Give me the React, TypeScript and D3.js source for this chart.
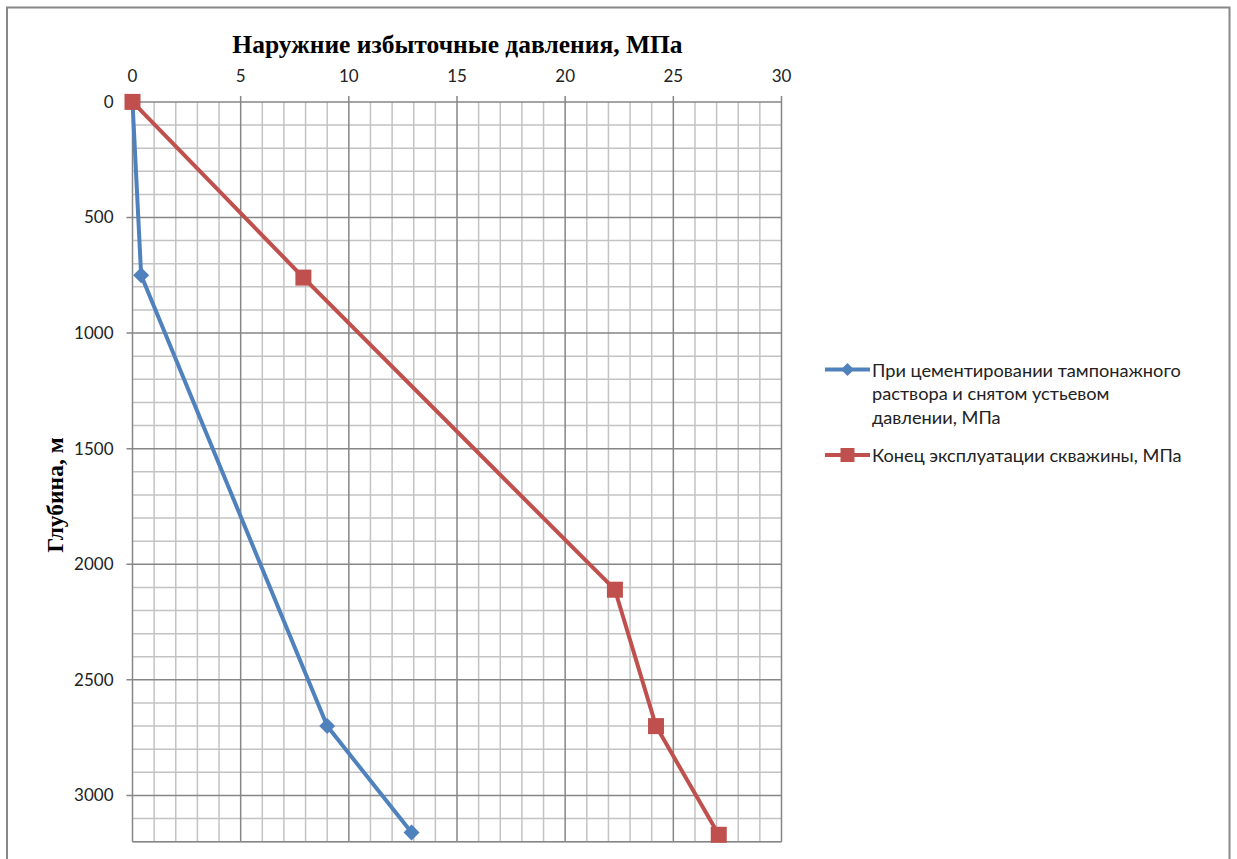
import React from "react";
import * as d3 from "d3";

// Pressure (MPa) vs depth (m) for the two load cases
const cementingDepth = [0, 750, 2700, 3160];
const cementingPressure = [0, 0.4, 9.0, 12.9];
const endOfLifeDepth = [0, 760, 2110, 2700, 3170];
const endOfLifePressure = [0, 7.9, 22.3, 24.2, 27.1];

const xTicks = [0, 5, 10, 15, 20, 25, 30];
const yTicks = [0, 500, 1000, 1500, 2000, 2500, 3000];

const seriesNames = [
  ["При цементировании тампонажного", "раствора и снятом устьевом", "давлении, МПа"],
  ["Конец эксплуатации скважины, МПа"],
];

const titleText = "Наружние избыточные давления, МПа";
const yTitleText = "Глубина, м";

const W = 1237;
const H = 859;
const plot = { left: 132.5, right: 781.5, top: 101.9, bottom: 841.7 };

const BLUE = "#4f81bd";
const RED = "#c0504d";
const MINOR = "#c3c3c3";
const MAJOR = "#868686";
const LABEL_FONT = "Lato, 'Open Sans', sans-serif";
const SERIF = "'Liberation Serif', 'DejaVu Serif', serif";

export default function App() {
  const x = d3.scaleLinear().domain([0, 30]).range([plot.left, plot.right]);
  const y = d3.scaleLinear().domain([0, 3200]).range([plot.top, plot.bottom]);

  const minorX = d3.range(0, 31, 1);
  const minorY = d3.range(0, 3201, 100);

  const line = d3
    .line<[number, number]>()
    .x((d) => x(d[0]))
    .y((d) => y(d[1]));

  const blue: [number, number][] = cementingPressure.map((p, i) => [p, cementingDepth[i]]);
  const red: [number, number][] = endOfLifePressure.map((p, i) => [p, endOfLifeDepth[i]]);

  const diamond = (cx: number, cy: number, r: number) =>
    `M${cx},${cy - r}L${cx + r},${cy}L${cx},${cy + r}L${cx - r},${cy}Z`;

  const legendX = 825;
  const legendTextX = 872;

  return (
    <svg
      width={W}
      height={H}
      style={{ position: "fixed", left: 0, top: 0, background: "#fff" }}
    >
      <rect x={0} y={0} width={W} height={H} fill="#fff" />
      {/* chart frame */}
      <path
        d={`M7,${H + 2}V7.5H1229.5V${H + 2}`}
        fill="none"
        stroke="#888"
        strokeWidth={2}
      />

      {/* minor grid */}
      {minorX
        .filter((v) => v % 5 !== 0)
        .map((v) => (
          <line key={"mx" + v} x1={x(v)} x2={x(v)} y1={plot.top} y2={plot.bottom} stroke={MINOR} strokeWidth={1.5} />
        ))}
      {minorY
        .filter((v) => v % 500 !== 0)
        .map((v) => (
          <line key={"my" + v} x1={plot.left} x2={plot.right} y1={y(v)} y2={y(v)} stroke={MINOR} strokeWidth={1.5} />
        ))}
      {/* major grid */}
      {xTicks.map((v) => (
        <line key={"Mx" + v} x1={x(v)} x2={x(v)} y1={plot.top - 6} y2={plot.bottom} stroke={MAJOR} strokeWidth={1.5} />
      ))}
      {yTicks.map((v) => (
        <line key={"My" + v} x1={plot.left - 6} x2={plot.right} y1={y(v)} y2={y(v)} stroke={MAJOR} strokeWidth={1.5} />
      ))}
      <line x1={plot.left} x2={plot.right} y1={plot.bottom} y2={plot.bottom} stroke={MAJOR} strokeWidth={1.5} />

      {/* tick labels */}
      {xTicks.map((v) => (
        <text key={"tx" + v} x={x(v)} y={82} textAnchor="middle" fontFamily={LABEL_FONT} fontSize={17} fill="#222">
          {v}
        </text>
      ))}
      {yTicks.map((v) => (
        <text key={"ty" + v} x={113.5} y={y(v) + 6} textAnchor="end" fontFamily={LABEL_FONT} fontSize={17} fill="#222">
          {v}
        </text>
      ))}

      {/* axis titles */}
      <text x={457.5} y={53} textAnchor="middle" fontFamily={SERIF} fontWeight="bold" fontSize={25.5} fill="#000">
        {titleText}
      </text>
      <text
        transform="translate(63,495) rotate(-90)"
        textAnchor="middle"
        fontFamily={SERIF}
        fontWeight="bold"
        fontSize={23.5}
        fill="#000"
      >
        {yTitleText}
      </text>

      {/* series */}
      <path d={line(blue) ?? ""} fill="none" stroke={BLUE} strokeWidth={4} strokeLinejoin="round" />
      {blue.map((d, i) => (
        <path key={"bm" + i} d={diamond(x(d[0]), y(d[1]), 8)} fill={BLUE} />
      ))}
      <path d={line(red) ?? ""} fill="none" stroke={RED} strokeWidth={4} strokeLinejoin="round" />
      {red.map((d, i) => (
        <rect key={"rm" + i} x={x(d[0]) - 8} y={y(d[1]) - 8} width={16} height={16} fill={RED} />
      ))}

      {/* legend */}
      <line x1={legendX} x2={legendX + 45} y1={369.5} y2={369.5} stroke={BLUE} strokeWidth={4} />
      <path d={diamond(legendX + 22.5, 369.5, 6.5)} fill={BLUE} />
      {seriesNames[0].map((s, i) => (
        <text key={"l0" + i} x={legendTextX} y={376.5 + i * 23.5} fontFamily={LABEL_FONT} fontSize={18.2} fill="#222">
          {s}
        </text>
      ))}
      <line x1={legendX} x2={legendX + 45} y1={455} y2={455} stroke={RED} strokeWidth={4} />
      <rect x={legendX + 22.5 - 7} y={455 - 7} width={14} height={14} fill={RED} />
      <text x={legendTextX} y={461.5} fontFamily={LABEL_FONT} fontSize={18.2} fill="#222">
        {seriesNames[1][0]}
      </text>
    </svg>
  );
}
